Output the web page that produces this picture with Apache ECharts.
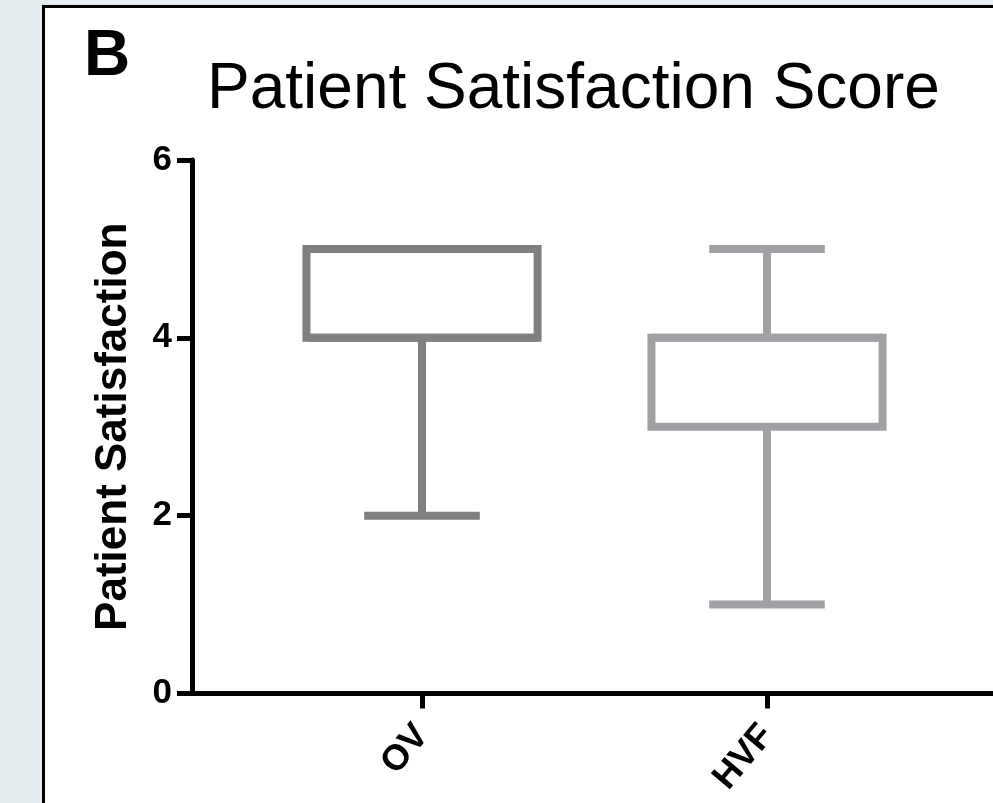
<!DOCTYPE html>
<html>
<head>
<meta charset="utf-8">
<title>Patient Satisfaction Score</title>
<script src="https://cdn.jsdelivr.net/npm/echarts@6/dist/echarts.min.js"></script>
<style>
  html, body { margin: 0; padding: 0; background: #e5edf0; }
  #chart { width: 993px; height: 803px; }
</style>
</head>
<body>
<div id="chart"></div>
<script>
// Box-and-whisker summary per group
const categories = ['OV', 'HVF'];
const whiskerLow = [2, 1];
const quartile1 = [4, 3];
const medians = [4, 4];
const quartile3 = [5, 4];
const whiskerHigh = [5, 5];
const boxColors = ['#808080', '#a1a1a5'];

const FONT = '"Liberation Sans", Arial, Helvetica, sans-serif';

const boxData = categories.map((c, i) => [
  i, whiskerLow[i], quartile1[i], medians[i], quartile3[i], whiskerHigh[i]
]);

function renderBox(params, api) {
  const idx = api.value(0);
  const color = boxColors[params.dataIndex];
  const step = api.size([1, 0])[0];
  const boxW = step * 0.67;
  const capW = boxW / 2;
  const pLow = api.coord([idx, api.value(1)]);
  const pQ1 = api.coord([idx, api.value(2)]);
  const pMed = api.coord([idx, api.value(3)]);
  const pQ3 = api.coord([idx, api.value(4)]);
  const pHigh = api.coord([idx, api.value(5)]);
  const cx = pQ1[0];
  const lw = 8;
  const line = (x1, y1, x2, y2) => ({
    type: 'line',
    shape: { x1, y1, x2, y2 },
    style: { stroke: color, lineWidth: lw, lineCap: 'butt' }
  });
  return {
    type: 'group',
    children: [
      line(cx, pQ1[1], cx, pLow[1]),
      line(cx - capW / 2, pLow[1], cx + capW / 2, pLow[1]),
      line(cx, pQ3[1], cx, pHigh[1]),
      line(cx - capW / 2, pHigh[1], cx + capW / 2, pHigh[1]),
      {
        type: 'rect',
        shape: { x: cx - boxW / 2, y: pQ3[1], width: boxW, height: pQ1[1] - pQ3[1] },
        style: { fill: '#ffffff', stroke: color, lineWidth: lw }
      },
      line(cx - boxW / 2, pMed[1], cx + boxW / 2, pMed[1])
    ]
  };
}

const chart = echarts.init(document.getElementById('chart'), null, { renderer: 'canvas' });

chart.setOption({
  backgroundColor: '#e5edf0',
  animation: false,
  graphic: [{
    type: 'rect',
    z: -10,
    silent: true,
    shape: { x: 43.5, y: 6.5, width: 1000, height: 900 },
    style: { fill: '#ffffff', stroke: '#000000', lineWidth: 3 }
  }],
  title: [
    {
      text: 'B',
      left: 84,
      top: 25,
      padding: 0,
      textStyle: { fontFamily: FONT, fontSize: 64, fontWeight: 'bold', color: '#000' }
    },
    {
      text: 'Patient Satisfaction Score',
      left: 207,
      top: 58,
      padding: 0,
      textStyle: { fontFamily: FONT, fontSize: 64, fontWeight: 'normal', color: '#000' }
    }
  ],
  grid: { left: 192, top: 160, bottom: 109.5, right: 0, containLabel: false },
  xAxis: {
    type: 'value',
    min: -2 / 3,
    max: 1.655,
    splitLine: { show: false },
    axisLine: { show: true, onZero: false, lineStyle: { color: '#000', width: 5 } },
    axisTick: {
      show: true, customValues: [0, 1], length: 15,
      lineStyle: { color: '#000', width: 5 }
    },
    axisLabel: {
      customValues: [0, 1],
      formatter: v => categories[Math.round(v)],
      rotate: 50,
      margin: 36,
      fontFamily: FONT, fontSize: 36, fontWeight: 'bold', color: '#000'
    }
  },
  yAxis: {
    type: 'value',
    min: 0,
    max: 6,
    interval: 2,
    name: 'Patient Satisfaction',
    nameLocation: 'middle',
    nameRotate: 90,
    nameGap: 56,
    nameTextStyle: { fontFamily: FONT, fontSize: 44, fontWeight: 'bold', color: '#000' },
    splitLine: { show: false },
    axisLine: { show: true, onZero: false, lineStyle: { color: '#000', width: 5 } },
    axisTick: { show: true, length: 15, lineStyle: { color: '#000', width: 5 } },
    axisLabel: {
      margin: 20,
      fontFamily: FONT, fontSize: 35, fontWeight: 'bold', color: '#000'
    }
  },
  series: [{
    type: 'custom',
    renderItem: renderBox,
    encode: { x: 0, y: [1, 2, 3, 4, 5] },
    data: boxData,
    clip: false
  }]
});
</script>
</body>
</html>
